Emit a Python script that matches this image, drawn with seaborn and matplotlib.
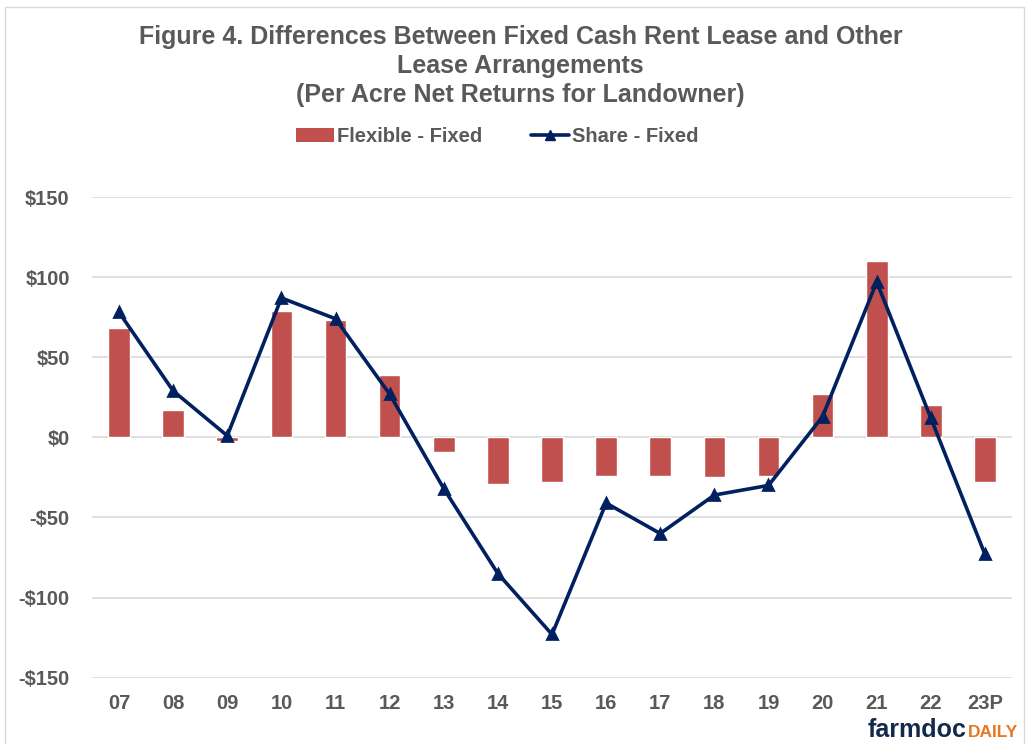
import pandas as pd
import seaborn as sns
import matplotlib.pyplot as plt
from matplotlib.patches import Patch, Rectangle
from matplotlib.lines import Line2D
from matplotlib.ticker import FuncFormatter

years = ['07', '08', '09', '10', '11', '12', '13', '14', '15', '16', '17', '18', '19', '20', '21', '22', '23P']
flexible_fixed = [68, 17, -2, 79, 73, 39, -9, -29, -28, -24, -24, -25, -24, 27, 110, 20, -28]
share_fixed = [78, 29, 1, 87, 74, 27, -32, -85, -123, -41, -60, -36, -30, 13, 97, 12, -73]

df = pd.DataFrame({'Year': years, 'Flexible - Fixed': flexible_fixed, 'Share - Fixed': share_fixed})

bar_color = '#C0504D'
line_color = '#002060'
text_gray = '#595959'

sns.set_theme(style='white')
plt.rcParams['font.family'] = ['Liberation Sans', 'DejaVu Sans']

fig = plt.figure(figsize=(10.29, 7.44), dpi=100)
ax = fig.add_axes([0.0894, 0.0891, 0.8941, 0.6461])

sns.barplot(data=df, x='Year', y='Flexible - Fixed', order=years, color=bar_color,
            width=0.4, saturation=1, ax=ax, zorder=2)
sns.pointplot(data=df, x='Year', y='Share - Fixed', order=years, color=line_color,
              markers='^', errorbar=None, ax=ax, markersize=7, linewidth=2.6, zorder=3)

ax.set_ylim(-150, 150)
ax.set_yticks(range(-150, 151, 50))
ax.yaxis.set_major_formatter(FuncFormatter(lambda v, p: f'${v:.0f}' if v >= 0 else f'-${-v:.0f}'))
ax.grid(axis='y', color='#D9D9D9', linewidth=1.2, zorder=0)
ax.set_axisbelow(True)
for s in ax.spines.values():
    s.set_visible(False)
ax.set_xlabel('')
ax.set_ylabel('')
ax.tick_params(axis='both', length=0, labelsize=14.5, colors=text_gray)
ax.tick_params(axis='x', pad=12)
ax.tick_params(axis='y', pad=16)
for lbl in ax.get_xticklabels() + ax.get_yticklabels():
    lbl.set_fontweight('bold')

fig.text(0.506, 0.966, 'Figure 4. Differences Between Fixed Cash Rent Lease and Other\nLease Arrangements\n(Per Acre Net Returns for Landowner)',
         ha='center', va='top', fontsize=18, fontweight='bold', color=text_gray, linespacing=1.25)

handles = [Patch(facecolor=bar_color, edgecolor='none', label='Flexible - Fixed'),
           Line2D([0], [0], color=line_color, marker='^', markersize=7, linewidth=2.6, label='Share - Fixed')]
leg = fig.legend(handles=handles, loc='center', bbox_to_anchor=(0.4835, 0.817), ncol=2, frameon=False,
                 fontsize=14.5, columnspacing=2.4, handlelength=1.9, handletextpad=0.15)
for t in leg.get_texts():
    t.set_color(text_gray)
    t.set_fontweight('bold')

fig.text(0.843, 0.009, 'farmdoc', ha='left', va='baseline', fontsize=18, fontweight='bold', color='#13294B')
fig.text(0.941, 0.009, 'DAILY', ha='left', va='baseline', fontsize=12.5, fontweight='bold', color='#E87722')

fig.patches.append(Rectangle((0.005, -0.01), 0.99, 1.0, transform=fig.transFigure, fill=False,
                             edgecolor='#D9D9D9', linewidth=1))

plt.savefig('out.png', dpi=100, facecolor='w')
